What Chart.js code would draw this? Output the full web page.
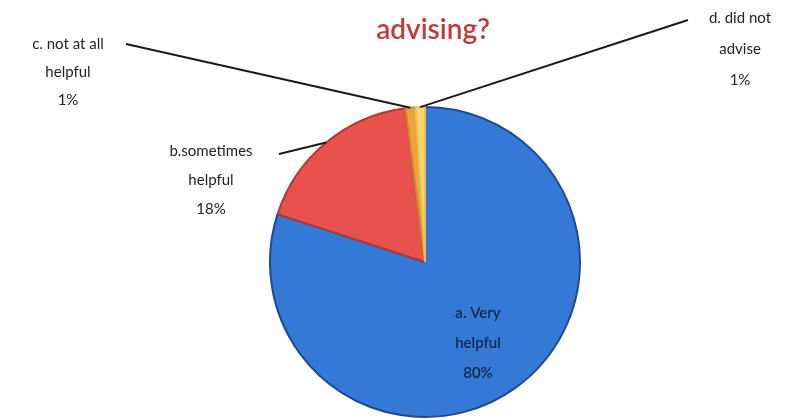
<!DOCTYPE html>
<html>
<head>
<meta charset="utf-8">
<script src="https://cdn.jsdelivr.net/npm/chart.js@4.4.1/dist/chart.umd.min.js"></script>
<style>
  html, body { margin: 0; padding: 0; background: #fff; }
  #wrap { width: 796px; height: 419px; }
</style>
</head>
<body>
<div id="wrap"><canvas id="chart"></canvas></div>
<script>
// data
const categories = ['a. Very helpful', 'b.sometimes helpful', 'c. not at all helpful', 'd. did not advise'];
const shares = [80, 18, 1, 1];
const labelLines = [
  ['a. Very', 'helpful', '80%'],
  ['b.sometimes', 'helpful', '18%'],
  ['c. not at all', 'helpful', '1%'],
  ['d. did not', 'advise', '1%']
];
const titleText = 'advising?';

const fills = ['#3479d6', '#e9514c', '#eea23a', '#f5d46a'];
const borders = ['#1d4a92', '#b23833', '#c98a30', '#e8c050'];

// where each label block sits, and which side the leader starts from
const labelPos = [
  { x: 478, y: 313, gap: 30, leader: null },
  { x: 211, y: 151, gap: 29, leader: { x: 279, y: 154 } },
  { x: 68, y: 44, gap: 28, leader: { x: 126, y: 44 } },
  { x: 740, y: 18, gap: 31, leader: { x: 688, y: 20 } }
];

const labelsPlugin = {
  id: 'pieLabels',
  afterDatasetsDraw(chart) {
    const ctx = chart.ctx;
    const arcs = chart.getDatasetMeta(0).data;
    ctx.save();

    // title
    ctx.font = '600 28px Lato, "Open Sans", sans-serif';
    ctx.fillStyle = '#c03a3a';
    ctx.textAlign = 'center';
    ctx.textBaseline = 'middle';
    ctx.fillText(titleText, 433, 30);

    arcs.forEach((arc, i) => {
      const p = labelPos[i];
      if (p.leader) {
        const mid = (arc.startAngle + arc.endAngle) / 2;
        const ex = arc.x + Math.cos(mid) * arc.outerRadius;
        const ey = arc.y + Math.sin(mid) * arc.outerRadius;
        ctx.strokeStyle = '#1a1a1a';
        ctx.lineWidth = 2;
        ctx.beginPath();
        ctx.moveTo(p.leader.x, p.leader.y);
        ctx.lineTo(ex, ey);
        ctx.stroke();
      }
      ctx.font = (i === 0 ? '600 ' : '') + '15px Lato, "Open Sans", sans-serif';
      ctx.fillStyle = i === 0 ? '#14264a' : '#222';
      ctx.textAlign = 'center';
      ctx.textBaseline = 'middle';
      labelLines[i].forEach((t, k) => {
        ctx.fillText(t, p.x, p.y + k * p.gap);
      });
    });
    ctx.restore();
  }
};

new Chart(document.getElementById('chart'), {
  type: 'pie',
  data: {
    labels: categories,
    datasets: [{
      data: shares,
      backgroundColor: fills,
      borderColor: borders,
      borderWidth: 2
    }]
  },
  options: {
    responsive: true,
    maintainAspectRatio: false,
    animation: false,
    layout: { padding: { top: 106, bottom: 1, left: 269, right: 215 } },
    plugins: {
      legend: { display: false },
      tooltip: { enabled: false }
    }
  },
  plugins: [labelsPlugin]
});
</script>
</body>
</html>
